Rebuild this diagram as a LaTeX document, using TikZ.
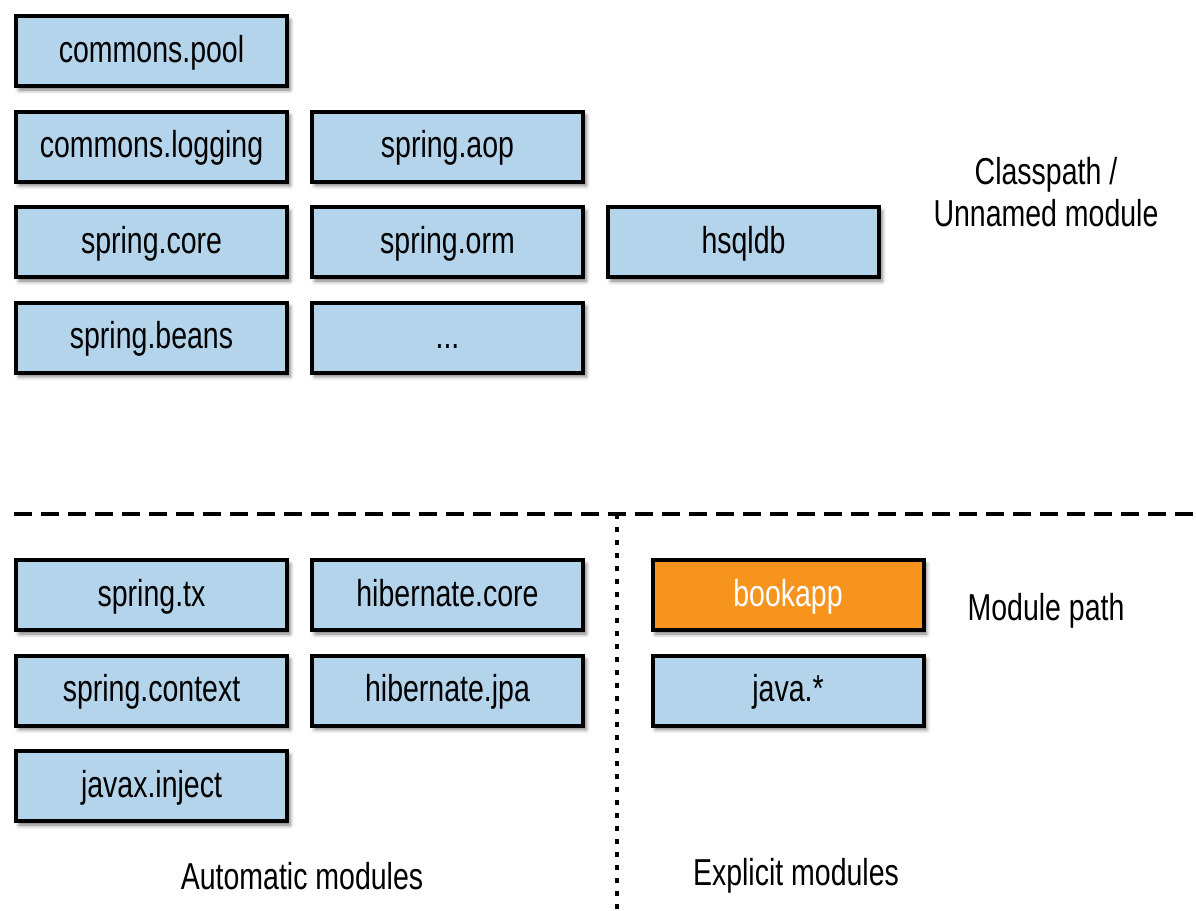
\documentclass[tikz,border=0pt]{standalone}
\usepackage{fontspec}
\newfontfamily\modfont[FakeStretch=0.76]{Liberation Sans}
\usepackage{tikz}
\usetikzlibrary{positioning, shadows, shadows.blur}
\definecolor{modblue}{RGB}{180,212,235}
\definecolor{modorange}{RGB}{247,148,30}
\tikzset{
  mod/.style={draw, line width=4pt, fill=modblue, minimum width=271pt,
    minimum height=70pt, inner sep=0pt, text height=22pt, text depth=0pt,
    blur shadow={shadow xshift=3pt, shadow yshift=-4pt, shadow blur radius=4pt, shadow opacity=55},
    font=\modfont\fontsize{37.5}{42}\selectfont},
  lbl/.style={font=\modfont\fontsize{37.5}{42}\selectfont, align=center}
}
\begin{document}
\begin{tikzpicture}[x=1pt,y=-1pt, node distance=21.5pt and 21pt]
		\useasboundingbox (0,0) rectangle (1196,910);
		% classpath
		\node[mod] (pool) at (151.5,51) {commons.pool};
		\node[mod, below=of pool] (logging) {commons.logging};
		\node[mod, below=of logging] (core) {spring.core};
		\node[mod, below=of core] (beans) {spring.beans};
		\node[mod, right=of logging] (aop) {spring.aop};
		\node[mod, right=of core] (orm) {spring.orm};
		\node[mod, right=of beans] (dots) {...};
		\node[mod, right=of orm] (hsqldb) {hsqldb};
		\node[lbl] (classpath) at (1046,192) {Classpath /\\Unnamed module};
		% separators
		\coordinate (dl) at (14,514);
		\coordinate (dr) at (1196,514);
		\coordinate (vt) at (617,514);
		\coordinate (vb) at (617,910);
		\draw[line width=4pt, dash pattern=on 18pt off 9pt] (dl) -- (dr);
		\draw[line width=4pt, dash pattern=on 5pt off 8pt] (vt) -- (vb);
		% module path
		\node[mod] (tx) at (151.5,595) {spring.tx};
		\node[mod, below=of tx] (context) {spring.context};
		\node[mod, below=of context] (inject) {javax.inject};
		\node[mod, right=of tx] (hibcore) {hibernate.core};
		\node[mod, right=of context] (jpa) {hibernate.jpa};
		\node[mod, fill=modorange, text=white] (bookapp) at (788,595) {bookapp};
		\node[mod, below=of bookapp] (java) {java.*};
		\node[lbl] (modpath) at (1046,611) {Module path};
		\node[lbl] (automatic) at (302,876) {Automatic modules};
		\node[lbl] (explicit) at (796,876) {Explicit modules};
	\end{tikzpicture}
\end{document}
